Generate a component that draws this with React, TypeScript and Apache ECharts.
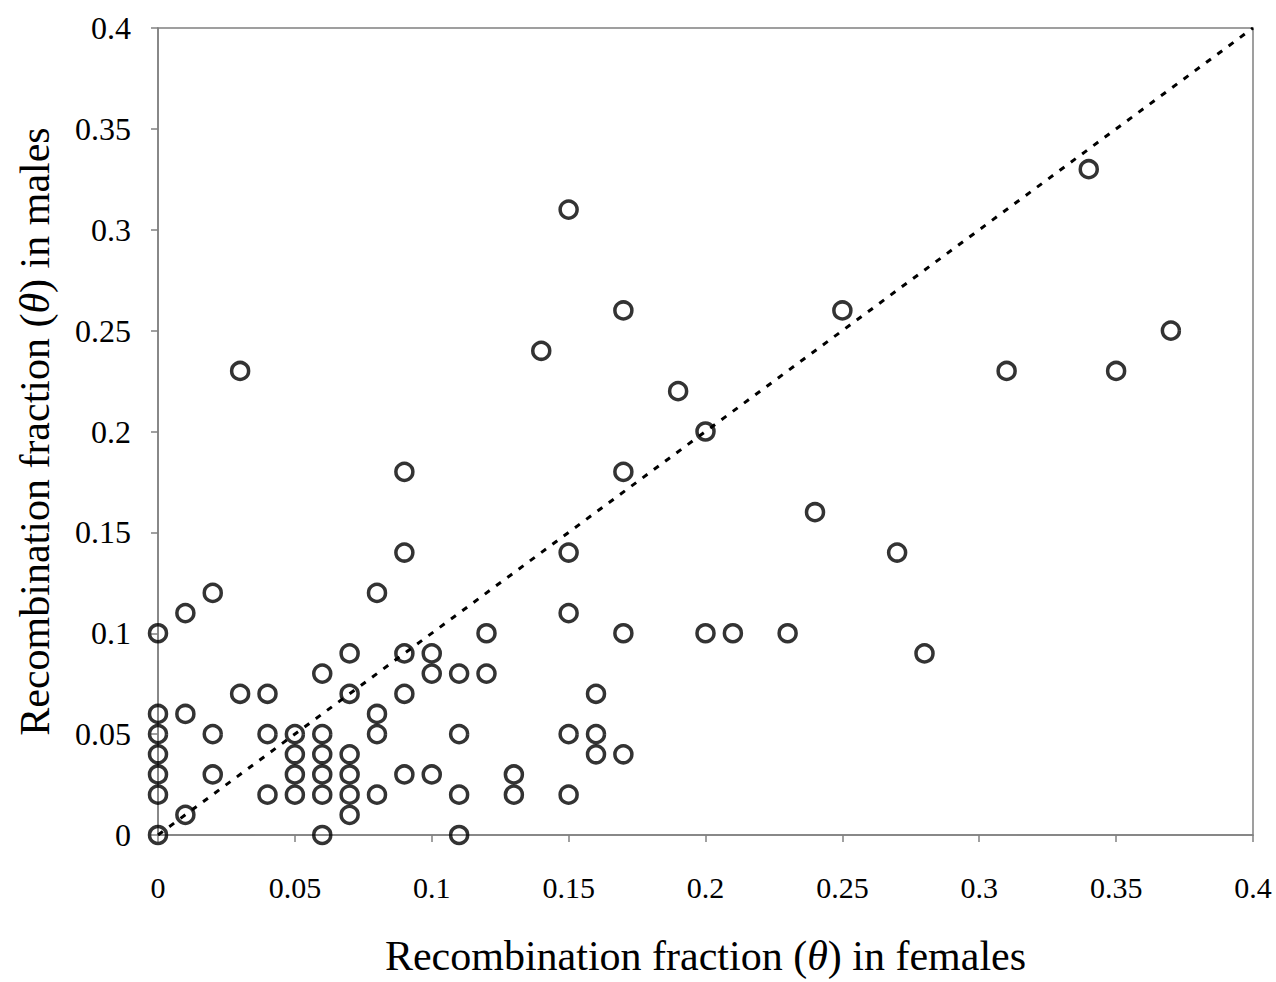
import React, { useEffect, useRef } from "react";
import * as echarts from "echarts";

const femaleTheta: number[] = [
  0, 0, 0, 0, 0, 0, 0,
  0.01, 0.01, 0.01,
  0.02, 0.02, 0.02,
  0.03, 0.03,
  0.04, 0.04, 0.04,
  0.05, 0.05, 0.05, 0.05,
  0.06, 0.06, 0.06, 0.06, 0.06, 0.06,
  0.07, 0.07, 0.07, 0.07, 0.07, 0.07,
  0.08, 0.08, 0.08, 0.08,
  0.09, 0.09, 0.09, 0.09, 0.09,
  0.1, 0.1, 0.1,
  0.11, 0.11, 0.11, 0.11,
  0.12, 0.12,
  0.13, 0.13,
  0.14,
  0.15, 0.15, 0.15, 0.15, 0.15,
  0.16, 0.16, 0.16,
  0.17, 0.17, 0.17, 0.17,
  0.19,
  0.2, 0.2,
  0.21,
  0.23,
  0.24,
  0.25,
  0.27,
  0.28,
  0.31,
  0.34,
  0.35,
  0.37,
];

const maleTheta: number[] = [
  0.1, 0.06, 0.05, 0.04, 0.03, 0.02, 0,
  0.11, 0.06, 0.01,
  0.12, 0.05, 0.03,
  0.23, 0.07,
  0.07, 0.05, 0.02,
  0.05, 0.04, 0.03, 0.02,
  0.08, 0.05, 0.04, 0.03, 0.02, 0,
  0.09, 0.07, 0.04, 0.03, 0.02, 0.01,
  0.12, 0.06, 0.05, 0.02,
  0.18, 0.14, 0.09, 0.07, 0.03,
  0.09, 0.08, 0.03,
  0.08, 0.05, 0.02, 0,
  0.1, 0.08,
  0.03, 0.02,
  0.24,
  0.31, 0.14, 0.11, 0.05, 0.02,
  0.07, 0.05, 0.04,
  0.26, 0.18, 0.1, 0.04,
  0.22,
  0.2, 0.1,
  0.1,
  0.1,
  0.16,
  0.26,
  0.14,
  0.09,
  0.23,
  0.33,
  0.23,
  0.25,
];

const equalityLine: number[][] = [
  [0, 0],
  [0.4, 0.4],
];

const FONT = "'Liberation Serif', 'Times New Roman', serif";

export default function App() {
  const ref = useRef<HTMLDivElement>(null);

  useEffect(() => {
    if (!ref.current) return;
    const chart = echarts.init(ref.current, undefined, { renderer: "svg" });
    const points = femaleTheta.map((x, i) => [x, maleTheta[i]]);
    const axisCommon = {
      type: "value" as const,
      min: 0,
      max: 0.4,
      interval: 0.05,
      nameLocation: "middle" as const,
      axisLine: { show: true, lineStyle: { color: "#808080", width: 1.5 } },
      axisTick: { show: true, inside: false, length: 7, lineStyle: { color: "#808080", width: 1.5 } },
      splitLine: { show: false },
    };
    const nameStyle = {
      fontFamily: FONT,
      fontSize: 42,
      color: "#000",
      rich: { i: { fontFamily: FONT, fontStyle: "italic", fontSize: 42, color: "#000" } },
    };
    chart.setOption({
      animation: false,
      backgroundColor: "#ffffff",
      grid: {
        left: 158,
        right: 23,
        top: 28,
        bottom: 136,
        show: true,
        borderColor: "#808080",
        borderWidth: 1.5,
        containLabel: false,
      },
      xAxis: {
        ...axisCommon,
        name: "Recombination fraction ({i|θ}) in females",
        nameGap: 100,
        nameTextStyle: nameStyle,
        axisLabel: { fontFamily: FONT, fontSize: 30, color: "#000", margin: 37 },
      },
      yAxis: {
        ...axisCommon,
        name: "Recombination fraction ({i|θ}) in males",
        nameGap: 102,
        nameRotate: 90,
        nameTextStyle: nameStyle,
        axisLabel: { fontFamily: FONT, fontSize: 32, color: "#000", margin: 27 },
      },
      series: [
        {
          type: "line",
          data: equalityLine,
          symbol: "none",
          lineStyle: { color: "#000", width: 3, type: [6, 8] },
          silent: true,
          z: 1,
        },
        {
          type: "scatter",
          data: points,
          symbol: "circle",
          symbolSize: 17,
          itemStyle: { color: "rgba(255,255,255,0)", borderColor: "#000", borderWidth: 3.5 },
          z: 2,
        },
      ],
    });
    return () => chart.dispose();
  }, []);

  return (
    <div
      ref={ref}
      style={{ position: "fixed", left: 0, top: 0, width: 1276, height: 982, background: "#fff" }}
    />
  );
}
